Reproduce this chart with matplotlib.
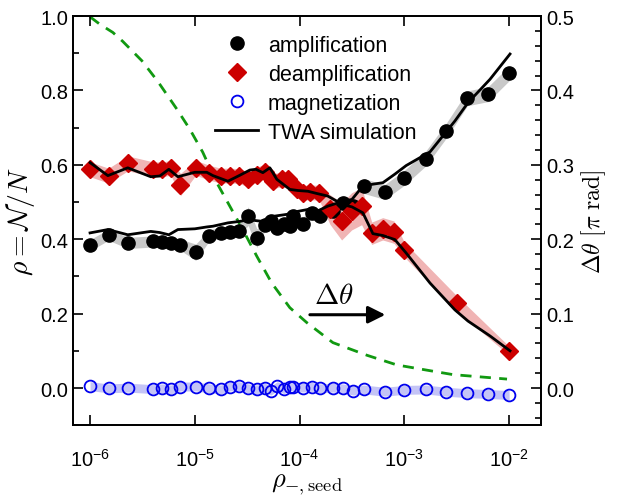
import matplotlib
matplotlib.use('Agg')
import matplotlib.pyplot as plt
import numpy as np
from matplotlib.ticker import MultipleLocator, LogLocator, NullLocator

plt.rcParams['font.family'] = ['Liberation Sans', 'DejaVu Sans']
plt.rcParams['mathtext.fontset'] = 'cm'

'''
    data read off the figure
'''
# shared seed values for amplification / magnetization
seed = [1.0e-6, 1.5e-6, 2.3e-6, 4.0e-6, 4.9e-6, 5.9e-6, 7.3e-6, 1.02e-5, 1.37e-5, 1.77e-5,
        2.16e-5, 2.63e-5, 3.23e-5, 3.91e-5, 4.67e-5, 5.32e-5, 6.14e-5, 7.08e-5, 8.07e-5, 8.73e-5,
        1.07e-4, 1.31e-4, 1.58e-4, 2.07e-4, 2.59e-4, 3.25e-4, 4.11e-4, 6.5e-4, 1.0e-3, 1.6e-3,
        2.5e-3, 4.0e-3, 6.3e-3, 1.0e-2]
amp = [0.384, 0.412, 0.390, 0.394, 0.393, 0.390, 0.385, 0.365, 0.410, 0.418,
       0.420, 0.423, 0.462, 0.403, 0.438, 0.448, 0.430, 0.442, 0.435, 0.462,
       0.442, 0.471, 0.462, 0.475, 0.498, 0.490, 0.543, 0.527, 0.565, 0.617,
       0.691, 0.779, 0.790, 0.846]
amp_err = [0.015, 0.015, 0.015, 0.015, 0.015, 0.015, 0.015, 0.022, 0.015, 0.015,
           0.015, 0.015, 0.025, 0.025, 0.015, 0.015, 0.015, 0.015, 0.015, 0.015,
           0.015, 0.015, 0.015, 0.015, 0.02, 0.02, 0.02, 0.02, 0.02, 0.02,
           0.02, 0.02, 0.02, 0.02]
mag = [0.005, -0.001, 0.001, -0.003, -0.001, -0.004, 0.004, 0.004, -0.001, -0.004,
       0.004, 0.005, -0.001, -0.004, 0.001, -0.007, 0.005, -0.003, 0.004, 0.004,
       0.001, 0.003, -0.001, 0.001, -0.001, -0.007, -0.004, -0.010, -0.005, -0.004,
       -0.010, -0.014, -0.016, -0.019]
mag_err = [0.012] * 34

# deamplification
seed_d = [1.0e-6, 1.5e-6, 2.3e-6, 4.0e-6, 4.9e-6, 5.9e-6, 7.3e-6, 1.02e-5, 1.37e-5, 1.77e-5,
          2.16e-5, 2.63e-5, 3.23e-5, 3.91e-5, 4.67e-5, 5.56e-5, 6.73e-5, 7.78e-5, 9.35e-5, 1.08e-4,
          1.25e-4, 1.54e-4, 1.95e-4, 2.52e-4, 3.14e-4, 3.91e-4, 4.88e-4, 6.21e-4, 7.96e-4, 1.0e-3,
          3.16e-3, 1.0e-2]
deamp = [0.588, 0.571, 0.604, 0.588, 0.588, 0.592, 0.547, 0.592, 0.579, 0.571,
         0.571, 0.570, 0.561, 0.574, 0.582, 0.556, 0.561, 0.561, 0.534, 0.525,
         0.526, 0.525, 0.480, 0.448, 0.475, 0.489, 0.416, 0.428, 0.419, 0.372,
         0.228, 0.100]
deamp_err = [0.02, 0.02, 0.02, 0.02, 0.02, 0.02, 0.03, 0.02, 0.02, 0.02,
             0.02, 0.02, 0.02, 0.02, 0.02, 0.02, 0.02, 0.02, 0.02, 0.02,
             0.02, 0.02, 0.04, 0.05, 0.05, 0.05, 0.03, 0.03, 0.03, 0.02,
             0.02, 0.012]

# TWA simulation
seed_twa = [1.0e-6, 1.48e-6, 2.29e-6, 3.80e-6, 4.63e-6, 5.65e-6, 6.89e-6, 1.0e-5, 1.30e-5, 1.49e-5,
            2.07e-5, 2.69e-5, 3.35e-5, 3.83e-5, 4.46e-5, 5.20e-5, 6.07e-5, 8.07e-5, 9.63e-5, 1.20e-4,
            1.46e-4, 1.86e-4, 2.59e-4, 3.16e-4, 4.02e-4, 5.01e-4, 6.24e-4, 8.12e-4, 1.04e-3, 1.76e-3,
            3.04e-3, 4.05e-3, 6.57e-3, 1.02e-2]
twa_amp = [0.417, 0.426, 0.412, 0.421, 0.418, 0.412, 0.426, 0.428, 0.433, 0.435,
           0.444, 0.448, 0.453, 0.450, 0.448, 0.460, 0.463, 0.468, 0.475, 0.480,
           0.475, 0.489, 0.502, 0.507, 0.543, 0.548, 0.552, 0.575, 0.598, 0.635,
           0.718, 0.767, 0.830, 0.898]
twa_deamp = [0.606, 0.571, 0.592, 0.568, 0.570, 0.588, 0.568, 0.580, 0.580, 0.571,
             0.556, 0.572, 0.586, 0.588, 0.579, 0.592, 0.561, 0.534, 0.531, 0.529,
             0.523, 0.516, 0.493, 0.487, 0.471, 0.415, 0.410, 0.399, 0.363, 0.282,
             0.210, 0.180, 0.140, 0.100]

# phase difference (right axis)
seed_th = [1.0e-6, 1.24e-6, 1.65e-6, 2.05e-6, 3.12e-6, 4.44e-6, 6.73e-6, 8.95e-6, 1.19e-5, 1.62e-5,
           2.87e-5, 3.91e-5, 5.43e-5, 8.07e-5, 1.17e-4, 2.08e-4, 4.40e-4, 8.49e-4, 1.64e-3, 2.91e-3,
           5.27e-3, 9.55e-3]
dtheta = [0.499, 0.489, 0.478, 0.466, 0.440, 0.412, 0.375, 0.348, 0.317, 0.276,
          0.213, 0.177, 0.141, 0.108, 0.088, 0.061, 0.044, 0.031, 0.024, 0.018,
          0.015, 0.012]

'''
    plot
'''
fig = plt.figure(figsize=(6.3, 5.02), dpi=100)
ax = fig.add_axes([0.116, 0.151, 0.743, 0.815])
ax2 = ax.twinx()
ax.set_zorder(2)
ax.patch.set_visible(False)

amp, amp_err = np.array(amp), np.array(amp_err)
deamp, deamp_err = np.array(deamp), np.array(deamp_err)
mag, mag_err = np.array(mag), np.array(mag_err)

ax.fill_between(seed, amp - amp_err, amp + amp_err, color='#c8c8c8', lw=0, zorder=1)
ax.fill_between(seed_d, deamp - deamp_err, deamp + deamp_err, color='#f0b4b4', lw=0, zorder=1)
ax.fill_between(seed, mag - mag_err, mag + mag_err, color='#c4c4f6', lw=0, zorder=1)

ax.plot(seed, amp, 'o', color='black', ms=9.5, label='amplification', zorder=3)
ax.plot(seed_d, deamp, 'D', color='#cc0000', ms=9, mec='#cc0000', label='deamplification', zorder=3)
ax.plot(seed, mag, 'o', mfc='none', mec='#0000ee', mew=1.3, ms=8.5, label='magnetization', zorder=3)
ax.plot(seed_twa, twa_amp, '-', color='black', lw=2, label='TWA simulation', zorder=4)
ax.plot(seed_twa, twa_deamp, '-', color='black', lw=2, zorder=4)

ax2.plot(seed_th, dtheta, '--', color='#119911', lw=2, dashes=(4, 3))

ax.annotate('', xy=(7.0e-4, 0.197), xytext=(1.18e-4, 0.197),
            arrowprops=dict(arrowstyle='-|>', color='black', lw=2.2, mutation_scale=26))
ax.text(2.1e-4, 0.212, r'$\Delta\theta$', fontsize=21, ha='center', va='bottom')

ax.set_xscale('log')
ax.set_xlim(10**-6.162, 10**-1.694)
ax.set_ylim(-0.1, 1.0)
ax2.set_ylim(-0.05, 0.5)

ax.xaxis.set_major_locator(LogLocator(base=10, numticks=10))
ax.xaxis.set_minor_locator(NullLocator())
ax.yaxis.set_major_locator(MultipleLocator(0.2))
ax.yaxis.set_minor_locator(MultipleLocator(0.1))
ax2.yaxis.set_major_locator(MultipleLocator(0.1))
ax2.yaxis.set_minor_locator(MultipleLocator(0.02))

ax.tick_params(which='both', direction='in', top=True, right=False, labelsize=14.5, width=1.2)
ax.tick_params(which='major', length=7)
ax.tick_params(which='minor', length=4)
ax.tick_params(axis='x', pad=16)
ax2.tick_params(which='both', direction='in', labelsize=14.5, width=1.2)
ax2.tick_params(which='major', length=7)
ax2.tick_params(which='minor', length=4)
ax.yaxis.set_major_formatter(plt.FormatStrFormatter('%.1f'))
ax2.yaxis.set_major_formatter(plt.FormatStrFormatter('%.1f'))
for sp in ax.spines.values():
    sp.set_linewidth(1.3)
for sp in ax2.spines.values():
    sp.set_linewidth(1.3)

ax.set_xlabel(r'$\rho_{-,\mathrm{seed}}$', fontsize=19, labelpad=2)
ax.set_ylabel(r'$\rho = \mathcal{N}/N$', fontsize=20, labelpad=2)
ax2.set_ylabel(r'$\Delta\theta\ [\pi\ \mathrm{rad}]$', fontsize=17, labelpad=4)

ax.legend(loc='upper left', bbox_to_anchor=(0.285, 0.975), frameon=False, fontsize=15.5,
          handlelength=2.0, handletextpad=0.46, labelspacing=0.37, borderaxespad=0)

plt.savefig('out.png', dpi=100)
